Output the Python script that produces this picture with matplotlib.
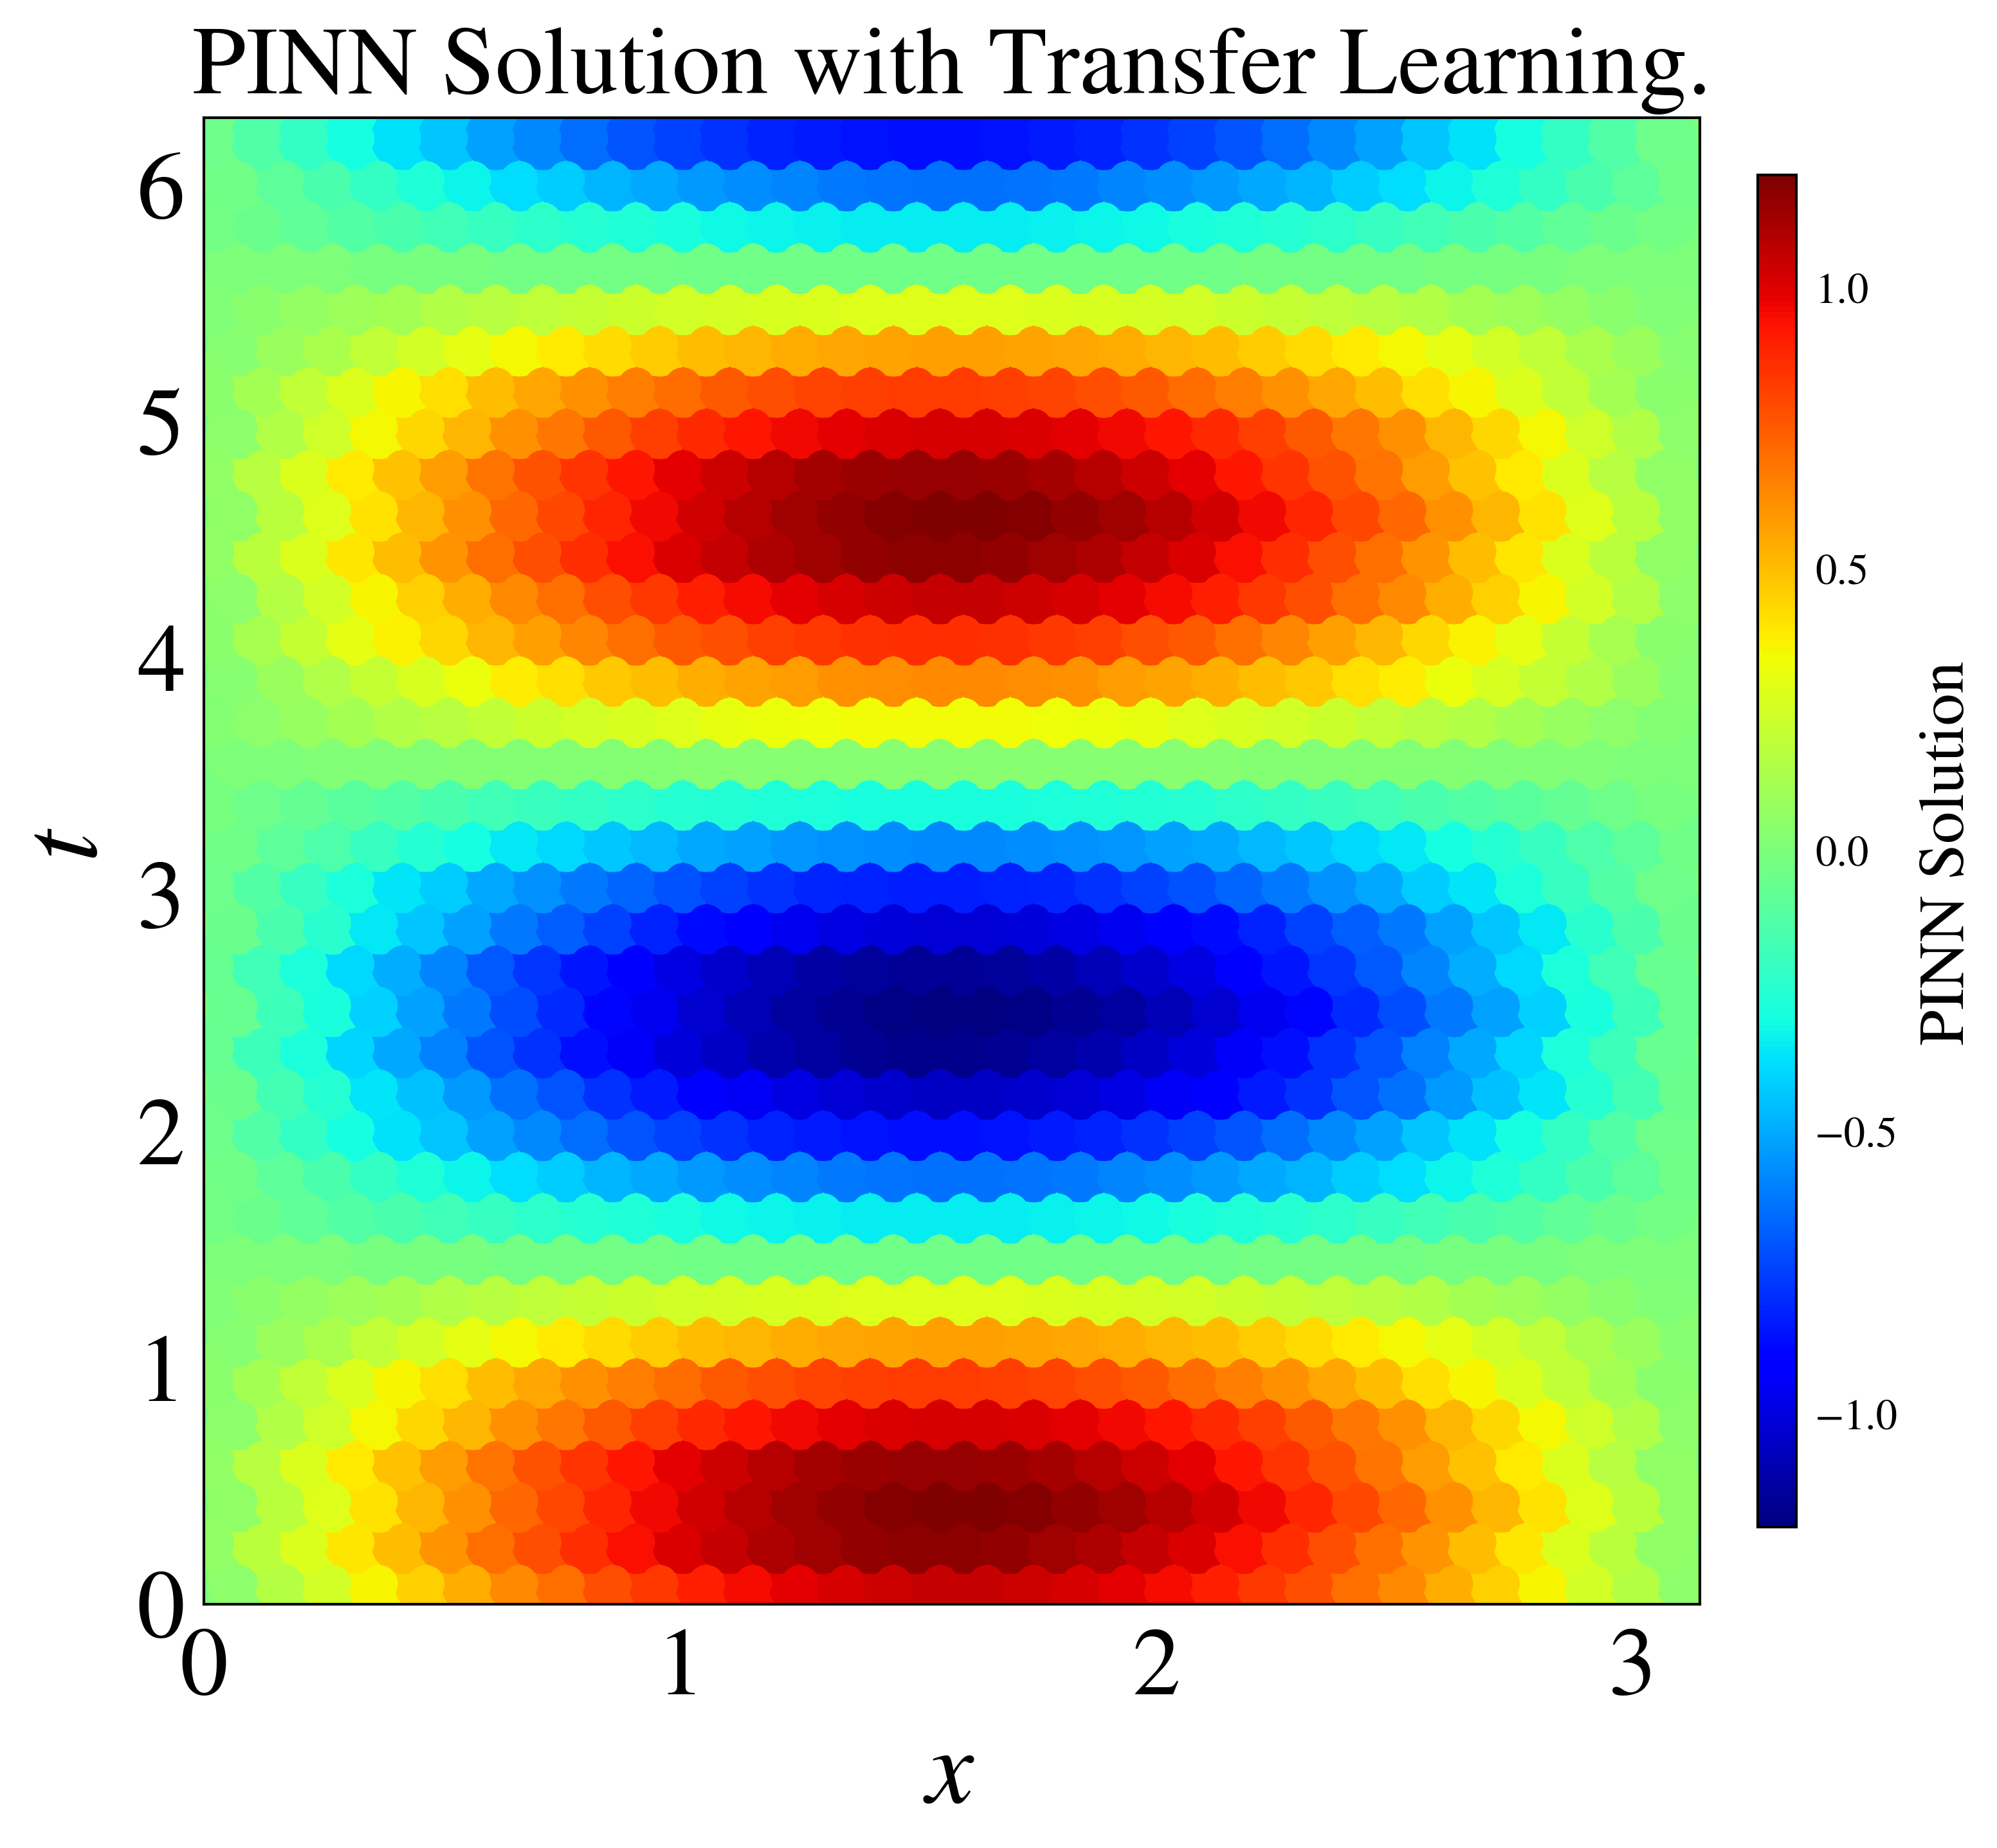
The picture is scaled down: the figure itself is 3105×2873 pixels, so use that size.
import numpy as np
import matplotlib
matplotlib.use('Agg')
import matplotlib.pyplot as plt

plt.rcParams['font.family'] = ['STIXGeneral', 'Liberation Serif']
plt.rcParams['mathtext.fontset'] = 'stix'

W, H = 3105, 2873

TITLE = 'PINN Solution with Transfer Learning.'
CBAR_LABEL = 'PINN Solution'
X_TICKS = [0, 1, 2, 3]
T_TICKS = [0, 1, 2, 3, 4, 5, 6]
CBAR_TICKS = [-1.0, -0.5, 0.0, 0.5, 1.0]
VMIN, VMAX = -1.2, 1.2
X_MAX = 3.1416
T_MAX = 6.2832

# the real scatter has thousands of overlapping points, too many to read one by one,
# so these are colours read by eye on a coarse grid: one row per t level, bottom row first
U_EST = [
    [.05,.16,.25,.36,.45,.54,.63,.70,.78,.84,.90,.95,.99,1.02,1.04,1.05,1.05,1.04,1.02,.99,.95,.90,.84,.78,.70,.63,.54,.45,.36,.25,.16,.05],
    [.06,.18,.28,.40,.50,.60,.70,.78,.87,.94,1.01,1.05,1.10,1.13,1.16,1.17,1.17,1.16,1.13,1.10,1.05,1.01,.94,.87,.78,.70,.60,.50,.40,.28,.18,.06],
    [.06,.18,.29,.41,.52,.61,.72,.80,.89,.96,1.03,1.08,1.13,1.16,1.19,1.20,1.20,1.19,1.16,1.13,1.08,1.03,.96,.89,.80,.72,.61,.52,.41,.29,.18,.06],
    [.06,.17,.28,.39,.49,.59,.69,.77,.85,.92,.99,1.04,1.08,1.12,1.14,1.15,1.15,1.14,1.12,1.08,1.04,.99,.92,.85,.77,.69,.59,.49,.39,.28,.17,.06],
    [.05,.15,.24,.35,.44,.52,.61,.68,.75,.82,.88,.92,.96,.99,1.01,1.02,1.02,1.01,.99,.96,.92,.88,.82,.75,.68,.61,.52,.44,.35,.24,.15,.05],
    [.04,.12,.20,.28,.36,.42,.50,.56,.61,.66,.71,.75,.78,.81,.82,.83,.83,.82,.81,.78,.75,.71,.66,.61,.56,.50,.42,.36,.28,.20,.12,.04],
    [.03,.09,.14,.20,.25,.30,.35,.39,.43,.46,.50,.52,.55,.56,.57,.58,.58,.57,.56,.55,.52,.50,.46,.43,.39,.35,.30,.25,.20,.14,.09,.03],
    [.01,.04,.07,.10,.12,.15,.17,.19,.21,.23,.25,.26,.27,.28,.29,.29,.29,.29,.28,.27,.26,.25,.23,.21,.19,.17,.15,.12,.10,.07,.04,.01],
    [0,0,0,-.01,-.01,-.01,-.02,-.02,-.02,-.02,-.03,-.03,-.03,-.03,-.03,-.03,-.03,-.03,-.03,-.03,-.03,-.03,-.02,-.02,-.02,-.02,-.01,-.01,-.01,0,0,0],
    [-.02,-.05,-.08,-.12,-.15,-.17,-.20,-.23,-.25,-.27,-.29,-.31,-.32,-.33,-.34,-.34,-.34,-.34,-.33,-.32,-.31,-.29,-.27,-.25,-.23,-.20,-.17,-.15,-.12,-.08,-.05,-.02],
    [-.03,-.09,-.15,-.21,-.27,-.32,-.38,-.42,-.47,-.50,-.54,-.57,-.59,-.61,-.62,-.63,-.63,-.62,-.61,-.59,-.57,-.54,-.50,-.47,-.42,-.38,-.32,-.27,-.21,-.15,-.09,-.03],
    [-.04,-.13,-.21,-.30,-.37,-.44,-.52,-.58,-.64,-.70,-.75,-.78,-.82,-.84,-.86,-.87,-.87,-.86,-.84,-.82,-.78,-.75,-.70,-.64,-.58,-.52,-.44,-.37,-.30,-.21,-.13,-.04],
    [-.05,-.16,-.25,-.36,-.45,-.54,-.63,-.70,-.78,-.84,-.90,-.95,-.99,-1.02,-1.04,-1.05,-1.05,-1.04,-1.02,-.99,-.95,-.90,-.84,-.78,-.70,-.63,-.54,-.45,-.36,-.25,-.16,-.05],
    [-.06,-.18,-.28,-.40,-.50,-.60,-.70,-.78,-.87,-.94,-1.01,-1.05,-1.10,-1.13,-1.16,-1.17,-1.17,-1.16,-1.13,-1.10,-1.05,-1.01,-.94,-.87,-.78,-.70,-.60,-.50,-.40,-.28,-.18,-.06],
    [-.06,-.18,-.29,-.41,-.52,-.61,-.72,-.80,-.89,-.96,-1.03,-1.08,-1.13,-1.16,-1.19,-1.20,-1.20,-1.19,-1.16,-1.13,-1.08,-1.03,-.96,-.89,-.80,-.72,-.61,-.52,-.41,-.29,-.18,-.06],
    [-.06,-.17,-.28,-.39,-.49,-.59,-.69,-.77,-.85,-.92,-.99,-1.04,-1.08,-1.12,-1.14,-1.15,-1.15,-1.14,-1.12,-1.08,-1.04,-.99,-.92,-.85,-.77,-.69,-.59,-.49,-.39,-.28,-.17,-.06],
    [-.05,-.15,-.24,-.35,-.44,-.52,-.61,-.68,-.75,-.82,-.88,-.92,-.96,-.99,-1.01,-1.02,-1.02,-1.01,-.99,-.96,-.92,-.88,-.82,-.75,-.68,-.61,-.52,-.44,-.35,-.24,-.15,-.05],
    [-.04,-.12,-.20,-.28,-.36,-.42,-.50,-.56,-.61,-.66,-.71,-.75,-.78,-.81,-.82,-.83,-.83,-.82,-.81,-.78,-.75,-.71,-.66,-.61,-.56,-.50,-.42,-.36,-.28,-.20,-.12,-.04],
    [-.03,-.09,-.14,-.20,-.25,-.30,-.35,-.39,-.43,-.46,-.50,-.52,-.55,-.56,-.57,-.58,-.58,-.57,-.56,-.55,-.52,-.50,-.46,-.43,-.39,-.35,-.30,-.25,-.20,-.14,-.09,-.03],
    [-.01,-.04,-.07,-.10,-.12,-.15,-.17,-.19,-.21,-.23,-.25,-.26,-.27,-.28,-.29,-.29,-.29,-.29,-.28,-.27,-.26,-.25,-.23,-.21,-.19,-.17,-.15,-.12,-.10,-.07,-.04,-.01],
    [0,0,.01,.01,.01,.02,.02,.02,.02,.02,.03,.03,.03,.03,.03,.03,.03,.03,.03,.03,.03,.03,.02,.02,.02,.02,.02,.01,.01,.01,0,0],
    [.02,.05,.08,.12,.15,.17,.20,.23,.25,.27,.29,.31,.32,.33,.34,.34,.34,.34,.33,.32,.31,.29,.27,.25,.23,.20,.17,.15,.12,.08,.05,.02],
    [.03,.09,.15,.21,.27,.32,.38,.42,.47,.50,.54,.57,.59,.61,.62,.63,.63,.62,.61,.59,.57,.54,.50,.47,.42,.38,.32,.27,.21,.15,.09,.03],
    [.04,.13,.21,.30,.37,.44,.52,.58,.64,.70,.75,.78,.82,.84,.86,.87,.87,.86,.84,.82,.78,.75,.70,.64,.58,.52,.44,.37,.30,.21,.13,.04],
    [.05,.16,.25,.36,.45,.54,.63,.70,.78,.84,.90,.95,.99,1.02,1.04,1.05,1.05,1.04,1.02,.99,.95,.90,.84,.78,.70,.63,.54,.45,.36,.25,.16,.05],
    [.06,.18,.28,.40,.50,.60,.70,.78,.87,.94,1.01,1.05,1.10,1.13,1.16,1.17,1.17,1.16,1.13,1.10,1.05,1.01,.94,.87,.78,.70,.60,.50,.40,.28,.18,.06],
    [.06,.18,.29,.41,.52,.61,.72,.80,.89,.96,1.03,1.08,1.13,1.16,1.19,1.20,1.20,1.19,1.16,1.13,1.08,1.03,.96,.89,.80,.72,.61,.52,.41,.29,.18,.06],
    [.06,.17,.28,.39,.49,.59,.69,.77,.85,.92,.99,1.04,1.08,1.12,1.14,1.15,1.15,1.14,1.12,1.08,1.04,.99,.92,.85,.77,.69,.59,.49,.39,.28,.17,.06],
    [.05,.15,.24,.35,.44,.52,.61,.68,.75,.82,.88,.92,.96,.99,1.01,1.02,1.02,1.01,.99,.96,.92,.88,.82,.75,.68,.61,.52,.44,.35,.24,.15,.05],
    [.04,.12,.20,.28,.36,.42,.50,.56,.61,.66,.71,.75,.78,.81,.82,.83,.83,.82,.81,.78,.75,.71,.66,.61,.56,.50,.42,.36,.28,.20,.12,.04],
    [.03,.09,.14,.20,.25,.30,.35,.39,.43,.46,.50,.52,.55,.56,.57,.58,.58,.57,.56,.55,.52,.50,.46,.43,.39,.35,.30,.25,.20,.14,.09,.03],
    [.01,.04,.07,.10,.12,.15,.17,.19,.21,.23,.25,.26,.27,.28,.29,.29,.29,.29,.28,.27,.26,.25,.23,.21,.19,.17,.15,.12,.10,.07,.04,.01],
    [0,0,0,-.01,-.01,-.01,-.02,-.02,-.02,-.02,-.03,-.03,-.03,-.03,-.03,-.03,-.03,-.03,-.03,-.03,-.03,-.03,-.02,-.02,-.02,-.02,-.01,-.01,-.01,0,0,0],
    [-.02,-.05,-.08,-.12,-.15,-.17,-.20,-.23,-.25,-.27,-.29,-.31,-.32,-.33,-.34,-.34,-.34,-.34,-.33,-.32,-.31,-.29,-.27,-.25,-.23,-.20,-.17,-.15,-.12,-.08,-.05,-.02],
    [-.03,-.09,-.15,-.21,-.27,-.32,-.38,-.42,-.47,-.50,-.54,-.57,-.59,-.61,-.62,-.63,-.63,-.62,-.61,-.59,-.57,-.54,-.50,-.47,-.42,-.38,-.32,-.27,-.21,-.15,-.09,-.03],
    [-.04,-.13,-.21,-.30,-.37,-.44,-.52,-.58,-.64,-.70,-.75,-.78,-.82,-.84,-.86,-.87,-.87,-.86,-.84,-.82,-.78,-.75,-.70,-.64,-.58,-.52,-.44,-.37,-.30,-.21,-.13,-.04],
]


def main():
    u = np.array(U_EST)
    n_rows, n_cols = u.shape
    dx = X_MAX / n_cols
    dt = T_MAX / n_rows

    # staggered grid, rows shifted opposite ways by a quarter cell so it stays centred
    xs, ts = np.meshgrid((np.arange(n_cols) + 0.5) * dx, (np.arange(n_rows) + 0.5) * dt)
    xs[0::2] += dx / 4
    xs[1::2] -= dx / 4
    xs, ts, vals = xs.ravel(), ts.ravel(), u.ravel()

    # draw order only, so that overlaps don't all go the same way
    order = (np.arange(vals.size) * 457) % vals.size

    fig = plt.figure(figsize=(W / 300, H / 300), dpi=300)
    ax = fig.add_axes([317 / W, 1 - 2494 / H, (2643 - 317) / W, (2494 - 183) / H])
    # same colour as the value 0, the edges of the domain are this green anyway
    ax.set_facecolor(plt.get_cmap('jet')(0.5))

    # wider dots underneath close the small gaps between the grid points
    ax.scatter(xs, ts, c=vals, s=560, cmap='jet', vmin=VMIN, vmax=VMAX, linewidths=0)
    sc = ax.scatter(xs[order], ts[order], c=vals[order], s=194, cmap='jet',
                    vmin=VMIN, vmax=VMAX, linewidths=0)

    ax.set_xlim(0, X_MAX)
    ax.set_ylim(0, T_MAX)
    ax.set_xticks(X_TICKS)
    ax.set_yticks(T_TICKS)
    ax.tick_params(axis='x', length=0, labelsize=36, pad=9)
    ax.tick_params(axis='y', length=0, labelsize=36, pad=7)
    for spine in ax.spines.values():
        spine.set_linewidth(1.0)

    ax.set_title(TITLE, fontsize=36, pad=9)
    fig.text(745 * 1.98 / W, 1 - 1396 * 1.98 / H, r'$x$', fontsize=40, ha='center', va='center')
    fig.text(55 * 1.98 / W, 1 - 663 * 1.98 / H, r'$t$', fontsize=42, rotation=90, ha='center', va='center')

    cax = fig.add_axes([2733 / W, 1 - 2374 / H, (2793 - 2733) / W, (2374 - 272) / H])
    cbar = fig.colorbar(sc, cax=cax)
    cbar.set_ticks(CBAR_TICKS)
    cbar.ax.tick_params(length=0, labelsize=16, pad=7)
    cbar.outline.set_linewidth(1.0)
    fig.text(1530 * 1.98 / W, 1 - 670 * 1.98 / H, CBAR_LABEL, fontsize=24, rotation=90, ha='center', va='center')

    fig.savefig('out.png', dpi=300)


if __name__ == '__main__':
    main()
